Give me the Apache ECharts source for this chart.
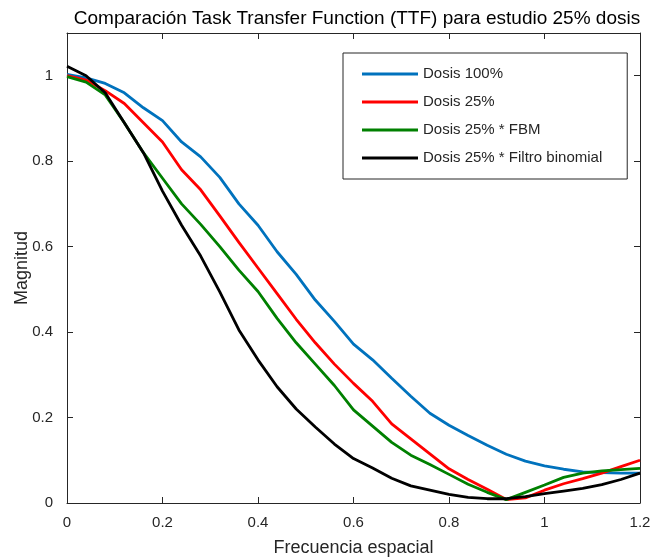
<!DOCTYPE html>
<html>
<head>
<meta charset="utf-8">
<script src="https://cdn.jsdelivr.net/npm/echarts@6/dist/echarts.min.js"></script>
<style>
html,body{margin:0;padding:0;background:#fff;}
#c{width:653px;height:559px;}
</style>
</head>
<body>
<div id="c"></div>
<script>
var freq = [0,0.04,0.08,0.12,0.16,0.20,0.24,0.28,0.32,0.36,0.40,0.44,0.48,0.52,0.56,0.60,0.64,0.68,0.72,0.76,0.80,0.84,0.88,0.92,0.96,1.00,1.04,1.08,1.12,1.16,1.20];
var dosis100 = [1.003,0.995,0.982,0.96,0.925,0.895,0.845,0.81,0.762,0.70,0.65,0.588,0.535,0.475,0.425,0.372,0.335,0.292,0.25,0.21,0.182,0.158,0.135,0.114,0.098,0.087,0.079,0.073,0.071,0.070,0.070];
var dosis25 = [1.0,0.99,0.965,0.935,0.89,0.845,0.78,0.733,0.672,0.61,0.55,0.49,0.43,0.375,0.325,0.28,0.238,0.185,0.15,0.115,0.08,0.055,0.032,0.008,0.012,0.03,0.045,0.057,0.07,0.085,0.10];
var dosis25FBM = [0.998,0.985,0.955,0.89,0.82,0.76,0.70,0.652,0.60,0.545,0.495,0.432,0.375,0.325,0.275,0.218,0.18,0.142,0.112,0.09,0.067,0.044,0.025,0.008,0.025,0.042,0.06,0.07,0.075,0.078,0.081];
var dosis25Binom = [1.022,1.0,0.96,0.89,0.82,0.73,0.65,0.578,0.494,0.405,0.335,0.272,0.22,0.178,0.138,0.104,0.082,0.058,0.04,0.03,0.02,0.013,0.01,0.01,0.015,0.022,0.028,0.034,0.043,0.055,0.07];
var seriesNames = ['Dosis 100%','Dosis 25%','Dosis 25% * FBM','Dosis 25% * Filtro binomial'];
var seriesColors = ['#0072BD','#FF0000','#008000','#000000'];
var xTicks = [0,0.2,0.4,0.6,0.8,1,1.2];
var yTicks = [0,0.2,0.4,0.6,0.8,1];

function pairs(ys){ return freq.map(function(x,i){return [x,ys[i]];}); }
var allData = [dosis100,dosis25,dosis25FBM,dosis25Binom];
var FONT = 'Liberation Sans, Arial, sans-serif';
var TXT = '#262626';
var chart = echarts.init(document.getElementById('c'), null, {renderer:'canvas'});
function fmt(v){ return Math.round(v*10)/10; }
var axisCommon = {
  axisLine:{show:true,onZero:false,lineStyle:{color:TXT,width:1}},
  axisTick:{show:true,inside:true,length:6,lineStyle:{color:TXT}},
  splitLine:{show:false}
};
chart.setOption({
  animation:false,
  backgroundColor:'#fff',
  title:{text:'Comparación Task Transfer Function (TTF) para estudio 25% dosis',left:352,textAlign:'center',top:4,
    textStyle:{fontFamily:FONT,fontSize:19,fontWeight:'normal',color:'#000'}},
  grid:{left:67,right:13,top:33,bottom:56,containLabel:false,outerBoundsMode:'none'},
  legend:{orient:'vertical',left:343,top:53,data:seriesNames,icon:'rect',itemWidth:56,itemHeight:3,itemGap:10,
    padding:[12,25,12,19],borderColor:TXT,borderWidth:1,backgroundColor:'#fff',textStyle:{fontFamily:FONT,fontSize:15,color:TXT,lineHeight:18}},
  xAxis:[
    Object.assign({type:'value',min:0,max:1.2,interval:0.2,position:'bottom',
      name:'Frecuencia espacial',nameLocation:'middle',nameGap:36,nameMoveOverlap:false,
      nameTextStyle:{fontFamily:FONT,fontSize:18,color:TXT},
      axisLabel:{fontFamily:FONT,fontSize:15,color:TXT,margin:12,formatter:function(v){return xTicks.indexOf(fmt(v))>=0?String(fmt(v)):'';}}},axisCommon),
    Object.assign({type:'value',min:0,max:1.2,interval:0.2,position:'top',axisLabel:{show:false}},axisCommon)
  ],
  yAxis:[
    Object.assign({type:'value',min:0,max:1.1,interval:0.2,position:'left',
      name:'Magnitud',nameLocation:'middle',nameGap:36,nameRotate:90,nameMoveOverlap:false,
      nameTextStyle:{fontFamily:FONT,fontSize:18,color:TXT},
      axisLabel:{fontFamily:FONT,fontSize:15,color:TXT,margin:14,formatter:function(v){return yTicks.indexOf(fmt(v))>=0&&v<1.05?String(fmt(v)):'';}}},axisCommon),
    Object.assign({type:'value',min:0,max:1.1,interval:0.2,position:'right',axisLabel:{show:false}},axisCommon)
  ],
  series:allData.map(function(d,i){return {name:seriesNames[i],type:'line',data:pairs(d),symbol:'none',showSymbol:false,
    xAxisIndex:0,yAxisIndex:0,lineStyle:{color:seriesColors[i],width:2.8},itemStyle:{color:seriesColors[i]},z:2+i};})
});
</script>
</body>
</html>
